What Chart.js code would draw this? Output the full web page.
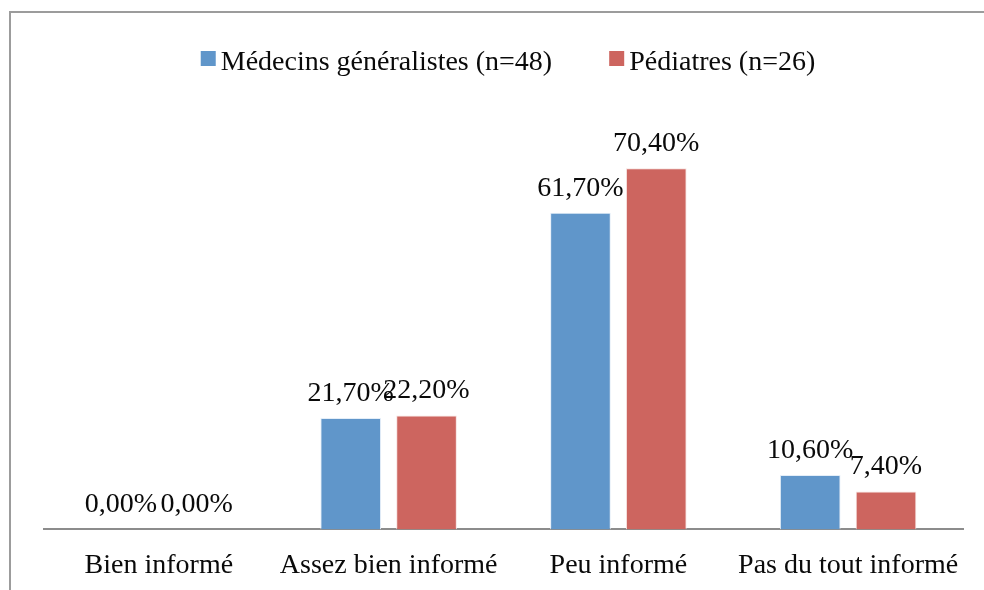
<!DOCTYPE html>
<html>
<head>
<meta charset="utf-8">
<script src="https://cdn.jsdelivr.net/npm/chart.js@4/dist/chart.umd.min.js"></script>
<style>
    html, body { margin: 0; padding: 0; background: #fff; }
    #wrap { width: 984px; height: 590px; position: relative; }
</style>
</head>
<body>
<div id="wrap"><canvas id="infoChart"></canvas></div>
<script>
const categories = ['Bien informé', 'Assez bien informé', 'Peu informé', 'Pas du tout informé'];
const generalistes = [0.0, 21.7, 61.7, 10.6];
const pediatres = [0.0, 22.2, 70.4, 7.4];
const seriesNames = ['Médecins généralistes (n=48)', 'Pédiatres (n=26)'];
const seriesColors = ['#6096CA', '#CD655F'];

const FONT = '"Liberation Serif", "Times New Roman", serif';
const TEXT_COLOR = '#0a0a0a';

// frame around the chart, only top and left edges are in view
const framePlugin = {
    id: 'frame',
    beforeDraw(chart) {
        const ctx = chart.ctx;
        ctx.save();
        ctx.fillStyle = '#fff';
        ctx.fillRect(0, 0, chart.width, chart.height);
        ctx.strokeStyle = '#9c9c9c';
        ctx.lineWidth = 2;
        ctx.beginPath();
        ctx.moveTo(10, chart.height + 2);
        ctx.lineTo(10, 12);
        ctx.lineTo(chart.width + 2, 12);
        ctx.stroke();
        ctx.restore();
    }
};

// value labels above each bar
const valueLabels = {
    id: 'valueLabels',
    afterDatasetsDraw(chart) {
        const ctx = chart.ctx;
        ctx.save();
        ctx.font = '28px ' + FONT;
        ctx.fillStyle = TEXT_COLOR;
        ctx.textAlign = 'center';
        ctx.textBaseline = 'alphabetic';
        chart.data.datasets.forEach((ds, i) => {
            const meta = chart.getDatasetMeta(i);
            meta.data.forEach((bar, j) => {
                const txt = ds.data[j].toFixed(2).replace('.', ',') + '%';
                ctx.fillText(txt, bar.x, bar.y - 17);
            });
        });
        ctx.restore();
    }
};

// legend drawn by hand: small square, short gap, text
const topLegend = {
    id: 'topLegend',
    afterDraw(chart) {
        const ctx = chart.ctx;
        const box = 15;
        const gap = 5;
        const itemGap = 57;
        const centerX = 508;
        ctx.save();
        ctx.font = '28px ' + FONT;
        const widths = seriesNames.map(n => ctx.measureText(n).width);
        let total = 0;
        widths.forEach((w, i) => { total += box + gap + w + (i > 0 ? itemGap : 0); });
        let x = centerX - total / 2;
        seriesNames.forEach((name, i) => {
            ctx.fillStyle = seriesColors[i];
            ctx.fillRect(x, 51, box, box);
            ctx.fillStyle = TEXT_COLOR;
            ctx.textBaseline = 'alphabetic';
            ctx.fillText(name, x + box + gap, 70);
            x += box + gap + widths[i] + itemGap;
        });
        ctx.restore();
    }
};

const ctx = document.getElementById('infoChart').getContext('2d');
new Chart(ctx, {
    type: 'bar',
    data: {
        labels: categories,
        datasets: [
            {
                label: seriesNames[0],
                data: generalistes,
                backgroundColor: seriesColors[0],
                borderColor: '#e4eef8',
                borderWidth: 1,
                categoryPercentage: 0.66,
                barPercentage: 0.8
            },
            {
                label: seriesNames[1],
                data: pediatres,
                backgroundColor: seriesColors[1],
                borderColor: '#f6e2e0',
                borderWidth: 1,
                categoryPercentage: 0.66,
                barPercentage: 0.8
            }
        ]
    },
    options: {
        responsive: true,
        maintainAspectRatio: false,
        animation: false,
        layout: {
            padding: { top: 121, left: 44, right: 21, bottom: -11 }
        },
        plugins: {
            legend: { display: false },
            tooltip: { enabled: false }
        },
        scales: {
            y: {
                display: false,
                min: 0,
                max: 79.6
            },
            x: {
                grid: { display: false, drawTicks: false },
                border: { display: true, color: '#8c8c8c', width: 2 },
                ticks: {
                    color: TEXT_COLOR,
                    padding: 19,
                    font: { family: FONT, size: 28 }
                }
            }
        }
    },
    plugins: [framePlugin, valueLabels, topLegend]
});
</script>
</body>
</html>
